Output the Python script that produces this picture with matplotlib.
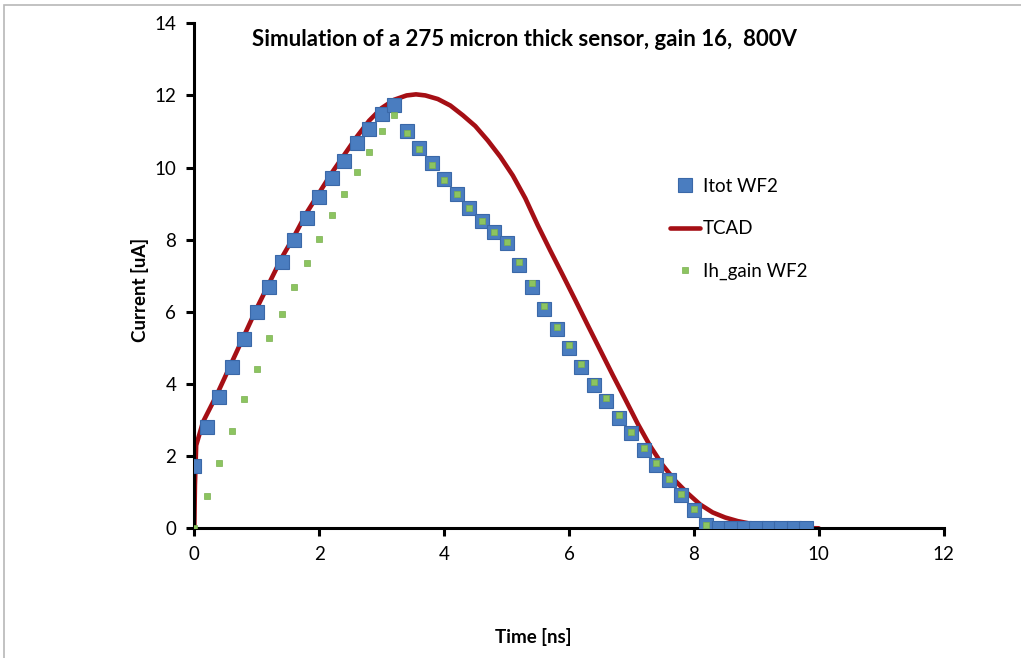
import numpy as np
import matplotlib
matplotlib.use('Agg')
import matplotlib.pyplot as plt
from matplotlib.patches import Rectangle

plt.rcParams['font.family'] = ['Lato', 'DejaVu Sans']

# time axis of the WF2 points (ns)
t_wf2 = [0.0, 0.2, 0.4, 0.6, 0.8, 1.0, 1.2, 1.4, 1.6, 1.8, 2.0, 2.2, 2.4, 2.6, 2.8,
         3.0, 3.2, 3.4, 3.6, 3.8, 4.0, 4.2, 4.4, 4.6, 4.8, 5.0, 5.2, 5.4, 5.6, 5.8,
         6.0, 6.2, 6.4, 6.6, 6.8, 7.0, 7.2, 7.4, 7.6, 7.8, 8.0, 8.2, 8.4, 8.6, 8.8,
         9.0, 9.2, 9.4, 9.6, 9.8]
itot = [1.73, 2.80, 3.63, 4.46, 5.26, 5.99, 6.70, 7.38, 7.99, 8.61, 9.18, 9.70, 10.18,
        10.67, 11.07, 11.49, 11.74, 11.02, 10.55, 10.12, 9.67, 9.26, 8.87, 8.52, 8.21,
        7.90, 7.30, 6.70, 6.09, 5.53, 4.99, 4.48, 3.97, 3.54, 3.07, 2.63, 2.17, 1.75,
        1.33, 0.92, 0.50, 0.10, 0.0, 0.0, 0.0, 0.0, 0.0, 0.0, 0.0, 0.0]

# Ih_gain stops at 8.2 ns
t_gain = t_wf2[:42]
ih_gain = [0.0, 0.90, 1.80, 2.71, 3.59, 4.41, 5.27, 5.93, 6.69, 7.36, 8.03, 8.68, 9.26,
           9.87, 10.42, 11.01, 11.46, 10.97, 10.52, 10.08, 9.66, 9.26, 8.87, 8.52, 8.22,
           7.93, 7.39, 6.81, 6.17, 5.59, 5.07, 4.55, 4.05, 3.60, 3.13, 2.68, 2.22, 1.80,
           1.38, 0.96, 0.53, 0.10]

# TCAD simulation
t_tcad = [0.0, 0.01, 0.03, 0.14, 0.36, 0.6, 0.8, 1.0, 1.2, 1.4, 1.6, 1.8, 2.0, 2.2, 2.4,
          2.6, 2.8, 3.0, 3.2, 3.4, 3.55, 3.7, 3.9, 4.1, 4.3, 4.5, 4.7, 4.9, 5.1, 5.3,
          5.5, 5.7, 5.9, 6.1, 6.3, 6.5, 6.7, 6.9, 7.1, 7.3, 7.5, 7.7, 7.9, 8.1, 8.3,
          8.5, 8.7, 8.9, 9.1, 9.3, 9.5, 9.7, 10.0]
i_tcad = [0.0, 1.2, 2.3, 2.95, 3.7, 4.6, 5.35, 6.1, 6.8, 7.5, 8.1, 8.75, 9.3, 9.85, 10.35,
          10.85, 11.3, 11.65, 11.88, 12.0, 12.03, 12.0, 11.9, 11.72, 11.45, 11.15, 10.75,
          10.3, 9.78, 9.15, 8.4, 7.7, 7.02, 6.33, 5.63, 4.94, 4.25, 3.58, 2.9, 2.28, 1.75,
          1.32, 0.97, 0.66, 0.44, 0.30, 0.20, 0.13, 0.07, 0.04, 0.02, 0.01, 0.0]

fig = plt.figure(figsize=(10.21, 6.58), dpi=100)
ax = fig.add_axes([0.1903, 0.1971, 0.7340, 0.7675])

# light grey frame of the chart area
fig.add_artist(Rectangle((4/1021, -0.1), 1.2, 1 - 5/658 + 0.1, transform=fig.transFigure,
                         fill=False, edgecolor='#b8b8b8', linewidth=1.2))

ax.plot(t_tcad, i_tcad, color='#a50f15', linewidth=3.3, zorder=2, label='TCAD',
        solid_capstyle='round')
ax.plot(t_wf2, itot, linestyle='none', marker='s', markersize=9.5, color='#4a7dc0',
        markeredgecolor='#3a68a8', markeredgewidth=0.8, zorder=3, label='Itot WF2')
ax.plot(t_gain, ih_gain, linestyle='none', marker='s', markersize=5, color='#8cc460',
        markeredgecolor='#7ab04e', markeredgewidth=0.5, zorder=4, label='Ih_gain WF2')

ax.set_xlim(0, 12)
ax.set_ylim(0, 14)
ax.set_xticks(range(0, 13, 2))
ax.set_yticks(range(0, 15, 2))
for s in ['top', 'right']:
    ax.spines[s].set_visible(False)
for s in ['left', 'bottom']:
    ax.spines[s].set_linewidth(2.2)
ax.tick_params(direction='out', length=6, width=2.2, labelsize=13.5, pad=7)

ax.set_xlabel('Time [ns]', fontsize=13.5, fontweight='bold')
ax.xaxis.set_label_coords(0.452, -0.197)
ax.set_ylabel('Current [uA]', fontsize=13.5, fontweight='bold')
ax.yaxis.set_label_coords(-0.06, 0.472)

fig.text(524/1021, 1 - 40/658, 'Simulation of a 275 micron thick sensor, gain 16,  800V',
         ha='center', va='center', fontsize=16, fontweight='bold')

h, l = ax.get_legend_handles_labels()
order = [1, 0, 2]
ax.legend([h[i] for i in order], [l[i] for i in order], loc='upper left',
          bbox_to_anchor=(653/1021, 1 - 161/658), bbox_transform=fig.transFigure,
          frameon=False, fontsize=13.5, labelspacing=1.35, handlelength=1.6,
          handletextpad=0.15)

fig.savefig('out.png', dpi=100)
